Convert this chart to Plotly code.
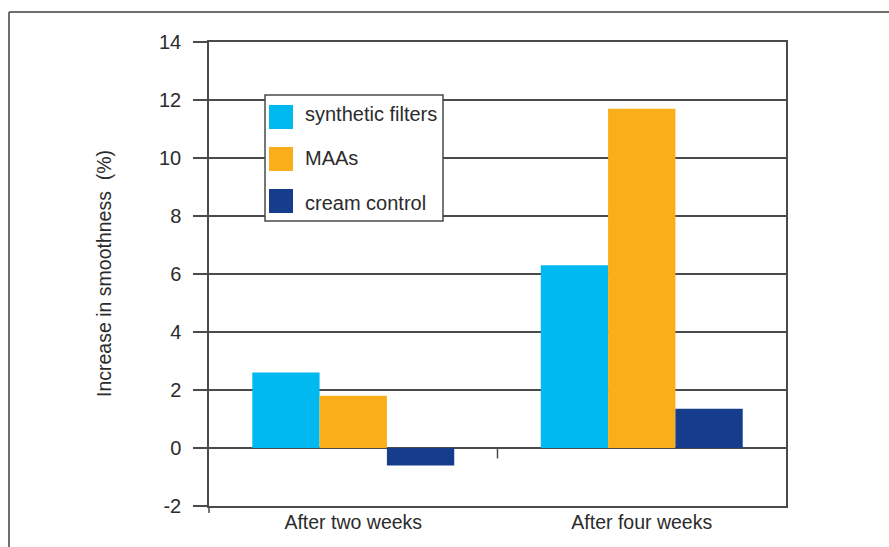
import plotly.graph_objects as go

# Data
categories = ["After two weeks", "After four weeks"]
series_names = ["synthetic filters", "MAAs", "cream control"]
synthetic_filters = [2.6, 6.3]
maas = [1.8, 11.7]
cream_control = [-0.6, 1.35]
y_ticks = [-2, 0, 2, 4, 6, 8, 10, 12, 14]

colors = ["#00B9F0", "#F9AE1A", "#163D8C"]
series_values = [synthetic_filters, maas, cream_control]

FONT = "Liberation Sans, Arial, sans-serif"
TEXT = "#2b2b2b"
LINE = "#4a4a4a"

W, H = 889, 547
ML, MR, MT, MB = 209, 103, 42, 41
PW, PH = W - ML - MR, H - MT - MB


def px_x(px):
    return (px - ML) / PW


def px_y(py):
    return (H - MB - py) / PH


fig = go.Figure()
for name, vals, col in zip(series_names, series_values, colors):
    fig.add_trace(go.Bar(x=categories, y=vals, name=name,
                         marker=dict(color=col, line=dict(width=0))))

shapes = []
annotations = []

# outer frame (top and left edges)
shapes.append(dict(type="line", xref="paper", yref="paper",
                   x0=px_x(9), x1=px_x(889), y0=px_y(12), y1=px_y(12),
                   line=dict(color="#6e6e6e", width=2)))
shapes.append(dict(type="line", xref="paper", yref="paper",
                   x0=px_x(9), x1=px_x(9), y0=px_y(12), y1=px_y(547),
                   line=dict(color="#6e6e6e", width=2)))

# y axis line running slightly past the bottom
shapes.append(dict(type="line", xref="paper", yref="paper",
                   x0=0, x1=0, y0=0, y1=px_y(513),
                   line=dict(color=LINE, width=1.5)))

# category divider tick on the zero line
shapes.append(dict(type="line", xref="x", yref="y",
                   x0=0.5, x1=0.5, y0=0, y1=-0.36,
                   line=dict(color=LINE, width=1.5)))

# legend box
lx0, lx1, ly0, ly1 = 265, 443, 95, 221
shapes.append(dict(type="rect", xref="paper", yref="paper",
                   x0=px_x(lx0), x1=px_x(lx1), y0=px_y(ly0), y1=px_y(ly1),
                   fillcolor="white", line=dict(color=LINE, width=1.5),
                   layer="above"))
swatch_centers = [117, 159, 201]
label_centers = [114, 158, 203]
for name, col, cy, ty in zip(series_names, colors, swatch_centers, label_centers):
    shapes.append(dict(type="rect", xref="paper", yref="paper",
                       x0=px_x(269), x1=px_x(293),
                       y0=px_y(cy - 12), y1=px_y(cy + 12),
                       fillcolor=col, line=dict(width=0), layer="above"))
    annotations.append(dict(xref="paper", yref="paper", x=px_x(303),
                            y=px_y(ty), text=name, showarrow=False,
                            xanchor="left", yanchor="middle",
                            font=dict(family=FONT, size=20, color=TEXT)))

# y axis title
annotations.append(dict(xref="paper", yref="paper", x=px_x(104), y=px_y(274),
                        text="Increase in smoothness  (%)", textangle=-90,
                        showarrow=False, xanchor="center", yanchor="middle",
                        font=dict(family=FONT, size=19.5, color=TEXT)))

fig.update_layout(
    width=W, height=H,
    margin=dict(l=ML, r=MR, t=MT, b=MB, pad=0),
    paper_bgcolor="white", plot_bgcolor="white",
    barmode="group", bargap=0.3, bargroupgap=0,
    showlegend=False,
    shapes=shapes, annotations=annotations,
    font=dict(family=FONT, size=19, color=TEXT),
    xaxis=dict(showgrid=False, showline=True, mirror=True,
               linecolor=LINE, linewidth=1.5, ticks="",
               ticklabelstandoff=-2,
               tickfont=dict(family=FONT, size=19.5, color=TEXT)),
    yaxis=dict(range=[-2, 14], tickvals=y_ticks,
               ticktext=[str(v) for v in y_ticks],
               showgrid=True, gridcolor=LINE, gridwidth=1.5,
               zeroline=True, zerolinecolor=LINE, zerolinewidth=1.5,
               showline=True, mirror=True, linecolor=LINE, linewidth=1.5,
               ticks="outside", ticklen=14, tickcolor=LINE, tickwidth=1.5,
               ticklabelstandoff=8,
               tickfont=dict(family=FONT, size=20, color=TEXT)),
)

fig.write_html("out.html")
